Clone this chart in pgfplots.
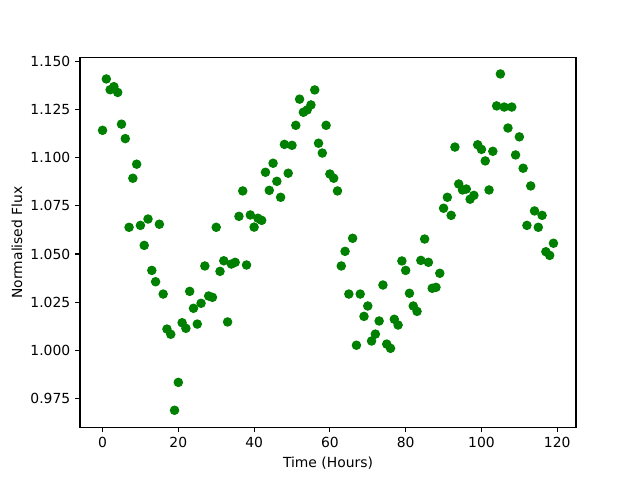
\documentclass[border=0pt]{standalone}
\usepackage{pgfplots}
\pgfplotsset{compat=1.18}
\usepackage{fontspec}
\setmainfont{DejaVu Sans}
\definecolor{mplgreen}{HTML}{008000}
\begin{document}
\fontsize{10}{12}\selectfont
\begin{tikzpicture}
\path[use as bounding box] (0,0) rectangle (460.8pt,345.6pt);
\begin{axis}[
  at={(57.6pt,38.016pt)}, anchor=south west,
  scale only axis, width=357.12pt, height=266.11pt,
  xmin=-5.95, xmax=124.95, ymin=0.96000, ymax=1.15210,
  xtick={0,20,40,60,80,100,120},
  ytick={0.975,1.000,1.025,1.050,1.075,1.100,1.125,1.150},
  yticklabel style={/pgf/number format/.cd, fixed, fixed zerofill, precision=3},
  /pgf/number format/assume math mode=true,
  tick align=outside, tick pos=left,
  major tick length=3.5pt,
  every tick/.style={black, line width=0.8pt},
  axis line style={line width=0.8pt},
  ticklabel style={font=\fontsize{10}{12}\selectfont},
  label style={font=\fontsize{10}{12}\selectfont},
  xlabel={Time (Hours)}, ylabel={Normalised Flux},
  ylabel style={yshift=-1pt},
]
\addplot[only marks, mark=*, mark size=3pt, color=mplgreen, mark options={line width=0.8pt}] coordinates {
(0,1.1143) (1,1.141) (2,1.1354) (3,1.137) (4,1.134) (5,1.1175) (6,1.110) (7,1.0639) (8,1.0894) (9,1.0967)
(10,1.0649) (11,1.0545) (12,1.0682) (13,1.0415) (14,1.0356) (15,1.0655) (16,1.0292) (17,1.0110) (18,1.0083) (19,0.9688)
(20,0.9833) (21,1.0143) (22,1.0114) (23,1.0306) (24,1.0218) (25,1.0136) (26,1.0244) (27,1.0438) (28,1.0282) (29,1.0275)
(30,1.0639) (31,1.041) (32,1.0465) (33,1.0147) (34,1.0448) (35,1.0457) (36,1.0696) (37,1.0828) (38,1.0443) (39,1.0703)
(40,1.0640) (41,1.0686) (42,1.0675) (43,1.0925) (44,1.0831) (45,1.0972) (46,1.0878) (47,1.0795) (48,1.1070) (49,1.0920)
(50,1.1065) (51,1.1169) (52,1.1305) (53,1.1237) (54,1.1249) (55,1.1275) (56,1.1353) (57,1.1076) (58,1.1025) (59,1.1169)
(60,1.0916) (61,1.0894) (62,1.0828) (63,1.0438) (64,1.0514) (65,1.0292) (66,1.0582) (67,1.0026) (68,1.0292) (69,1.0176)
(70,1.0230) (71,1.0048) (72,1.0084) (73,1.0152) (74,1.0339) (75,1.0032) (76,1.0010) (77,1.0161) (78,1.0131) (79,1.0464)
(80,1.0415) (81,1.0296) (82,1.0230) (83,1.0202) (84,1.0467) (85,1.0578) (86,1.0457) (87,1.0322) (88,1.0327) (89,1.0400)
(90,1.0738) (91,1.0795) (92,1.0701) (93,1.1056) (94,1.0864) (95,1.0833) (96,1.0838) (97,1.0785) (98,1.0805) (99,1.1068)
(100,1.1044) (101,1.0984) (102,1.0833) (103,1.1034) (104,1.1270) (105,1.1436) (106,1.1264) (107,1.1155) (108,1.1264) (109,1.1015)
(110,1.1109) (111,1.0946) (112,1.0649) (113,1.0854) (114,1.0724) (115,1.0639) (116,1.0701) (117,1.0512) (118,1.0493) (119,1.0556)
};
\end{axis}
\end{tikzpicture}
\end{document}
